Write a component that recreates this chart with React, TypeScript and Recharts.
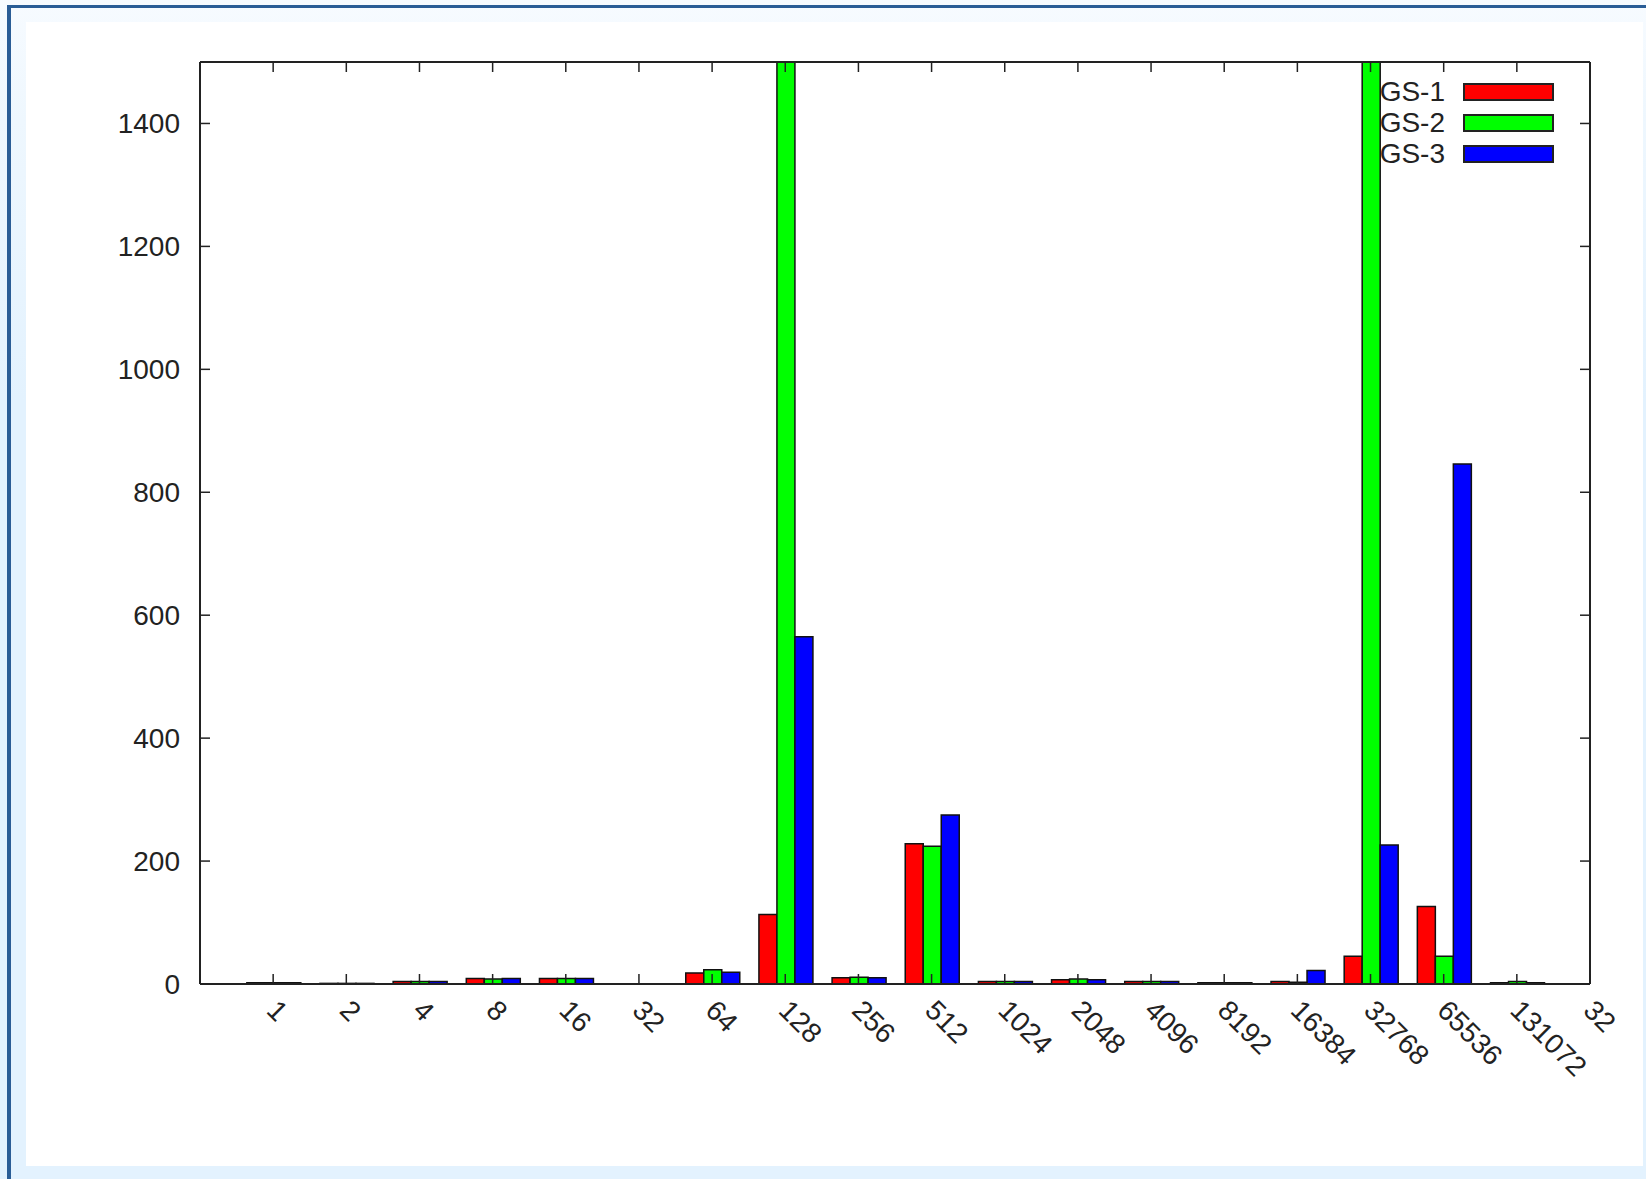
import React from 'react';
import { BarChart, Bar, XAxis, YAxis, Legend } from 'recharts';

const categories = ['1', '2', '4', '8', '16', '32', '64', '128', '256', '512', '1024', '2048', '4096', '8192', '16384', '32768', '65536', '131072'];
const gs1 = [2, 1, 4, 9, 9, 0, 18, 113, 10, 228, 4, 7, 4, 2, 4, 45, 126, 2];
const gs2 = [2, 1, 4, 8, 9, 0, 23, 2500, 11, 224, 4, 8, 4, 2, 3, 2500, 45, 4];
const gs3 = [2, 1, 4, 9, 9, 0, 19, 565, 10, 275, 4, 7, 4, 2, 22, 226, 846, 2];
const edgeLabel = '32';
const yTicks = [0, 200, 400, 600, 800, 1000, 1200, 1400];

const seriesNames = ['GS-1', 'GS-2', 'GS-3'];
const seriesColors = ['#ff0000', '#00ff00', '#0000ff'];

const data = categories.map((c, i) => ({ pos: i, label: c, gs1: gs1[i], gs2: gs2[i], gs3: gs3[i] }));
const xTicks = Array.from({ length: categories.length + 2 }, (_, i) => i - 1);
const labelFor = (p: number) => (p >= 0 && p < categories.length ? categories[p] : p === categories.length ? edgeLabel : '');

const FONT = '"Liberation Sans", Arial, Helvetica, sans-serif';
const TXT = '#222';
const TICK_LEN = 10;

const BottomTick = (props: any) => {
  const { x, y, payload } = props;
  const label = labelFor(payload.value);
  return (
    <g>
      <line x1={x} y1={y} x2={x} y2={y - TICK_LEN} stroke={TXT} strokeWidth={1.5} />
      {label && (
        <text
          x={x - 8}
          y={y + 28}
          transform={`rotate(45 ${x - 8} ${y + 28})`}
          textAnchor="start"
          fontSize={28}
          fontFamily={FONT}
          fill={TXT}
        >
          {label}
        </text>
      )}
    </g>
  );
};

const TopTick = (props: any) => {
  const { x, y } = props;
  return <line x1={x} y1={y} x2={x} y2={y + TICK_LEN} stroke={TXT} strokeWidth={1.5} />;
};

const LeftTick = (props: any) => {
  const { x, y, payload } = props;
  return (
    <g>
      <line x1={x} y1={y} x2={x + TICK_LEN} y2={y} stroke={TXT} strokeWidth={1.5} />
      <text x={x - 20} y={y} textAnchor="end" dominantBaseline="central" fontSize={28} fontFamily={FONT} fill={TXT}>
        {payload.value}
      </text>
    </g>
  );
};

const RightTick = (props: any) => {
  const { x, y } = props;
  return <line x1={x} y1={y} x2={x - TICK_LEN} y2={y} stroke={TXT} strokeWidth={1.5} />;
};

const renderLegend = () => (
  <div style={{ fontFamily: FONT, fontSize: 28, color: TXT }}>
    {seriesNames.map((n, i) => (
      <div key={n} style={{ display: 'flex', alignItems: 'center', height: 31 }}>
        <span style={{ width: 80, textAlign: 'right', lineHeight: '31px' }}>{n}</span>
        <span
          style={{
            display: 'inline-block',
            marginLeft: 18,
            width: 87,
            height: 14,
            background: seriesColors[i],
            border: '2px solid #222',
          }}
        />
      </div>
    ))}
  </div>
);

export default function App() {
  return (
    <div
      style={{
        position: 'absolute',
        left: 0,
        top: 0,
        width: 1646,
        height: 1179,
        background: 'linear-gradient(to bottom, #f7fbff 0px, #eef7fe 120px, #e3f2fe 400px, #e3f2fe 100%)',
        overflow: 'hidden',
      }}
    >
      <div style={{ position: 'absolute', left: 7, top: 5, width: 4, height: 1174, background: '#2a5d96' }} />
      <div style={{ position: 'absolute', left: 7, top: 5, width: 1639, height: 2.5, background: '#2a5d96' }} />
      <div style={{ position: 'absolute', left: 26, top: 22, width: 1617, height: 1144, background: '#ffffff' }} />
      <div style={{ position: 'absolute', left: 0, top: 0 }}>
        <BarChart
          width={1646}
          height={1179}
          data={data}
          margin={{ top: 61, right: 55, bottom: 194, left: 0 }}
          barCategoryGap="14%"
          barGap={0}
        >
          <XAxis
            xAxisId="bottom"
            dataKey="pos"
            type="number"
            domain={[-1, categories.length]}
            ticks={xTicks}
            interval={0}
            allowDataOverflow
            height={1}
            tickSize={0}
            tickMargin={0}
            tickLine={false}
            tick={<BottomTick />}
            axisLine={{ stroke: TXT, strokeWidth: 2 }}
          />
          <XAxis
            xAxisId="top"
            orientation="top"
            dataKey="pos"
            type="number"
            domain={[-1, categories.length]}
            ticks={xTicks}
            interval={0}
            allowDataOverflow
            height={1}
            tickSize={0}
            tickMargin={0}
            tickLine={false}
            tick={<TopTick />}
            axisLine={{ stroke: TXT, strokeWidth: 2 }}
          />
          <YAxis
            yAxisId="left"
            type="number"
            domain={[0, 1500]}
            ticks={yTicks}
            interval={0}
            allowDataOverflow
            width={200}
            tickSize={0}
            tickMargin={0}
            tickLine={false}
            tick={<LeftTick />}
            axisLine={{ stroke: TXT, strokeWidth: 2 }}
          />
          <YAxis
            yAxisId="right"
            orientation="right"
            type="number"
            domain={[0, 1500]}
            ticks={yTicks}
            interval={0}
            allowDataOverflow
            width={1}
            tickSize={0}
            tickMargin={0}
            tickLine={false}
            tick={<RightTick />}
            axisLine={{ stroke: TXT, strokeWidth: 2 }}
          />
          <Legend
            layout="vertical"
            align="center"
            verticalAlign="middle"
            content={renderLegend}
            wrapperStyle={{ position: 'absolute', left: 1365, top: 76, width: 200, height: 93 }}
          />
          <Bar xAxisId="bottom" yAxisId="left" dataKey="gs1" name="GS-1" fill={seriesColors[0]} stroke="#111" strokeWidth={1.5} isAnimationActive={false} />
          <Bar xAxisId="bottom" yAxisId="left" dataKey="gs2" name="GS-2" fill={seriesColors[1]} stroke="#111" strokeWidth={1.5} isAnimationActive={false} />
          <Bar xAxisId="bottom" yAxisId="left" dataKey="gs3" name="GS-3" fill={seriesColors[2]} stroke="#111" strokeWidth={1.5} isAnimationActive={false} />
        </BarChart>
      </div>
    </div>
  );
}
